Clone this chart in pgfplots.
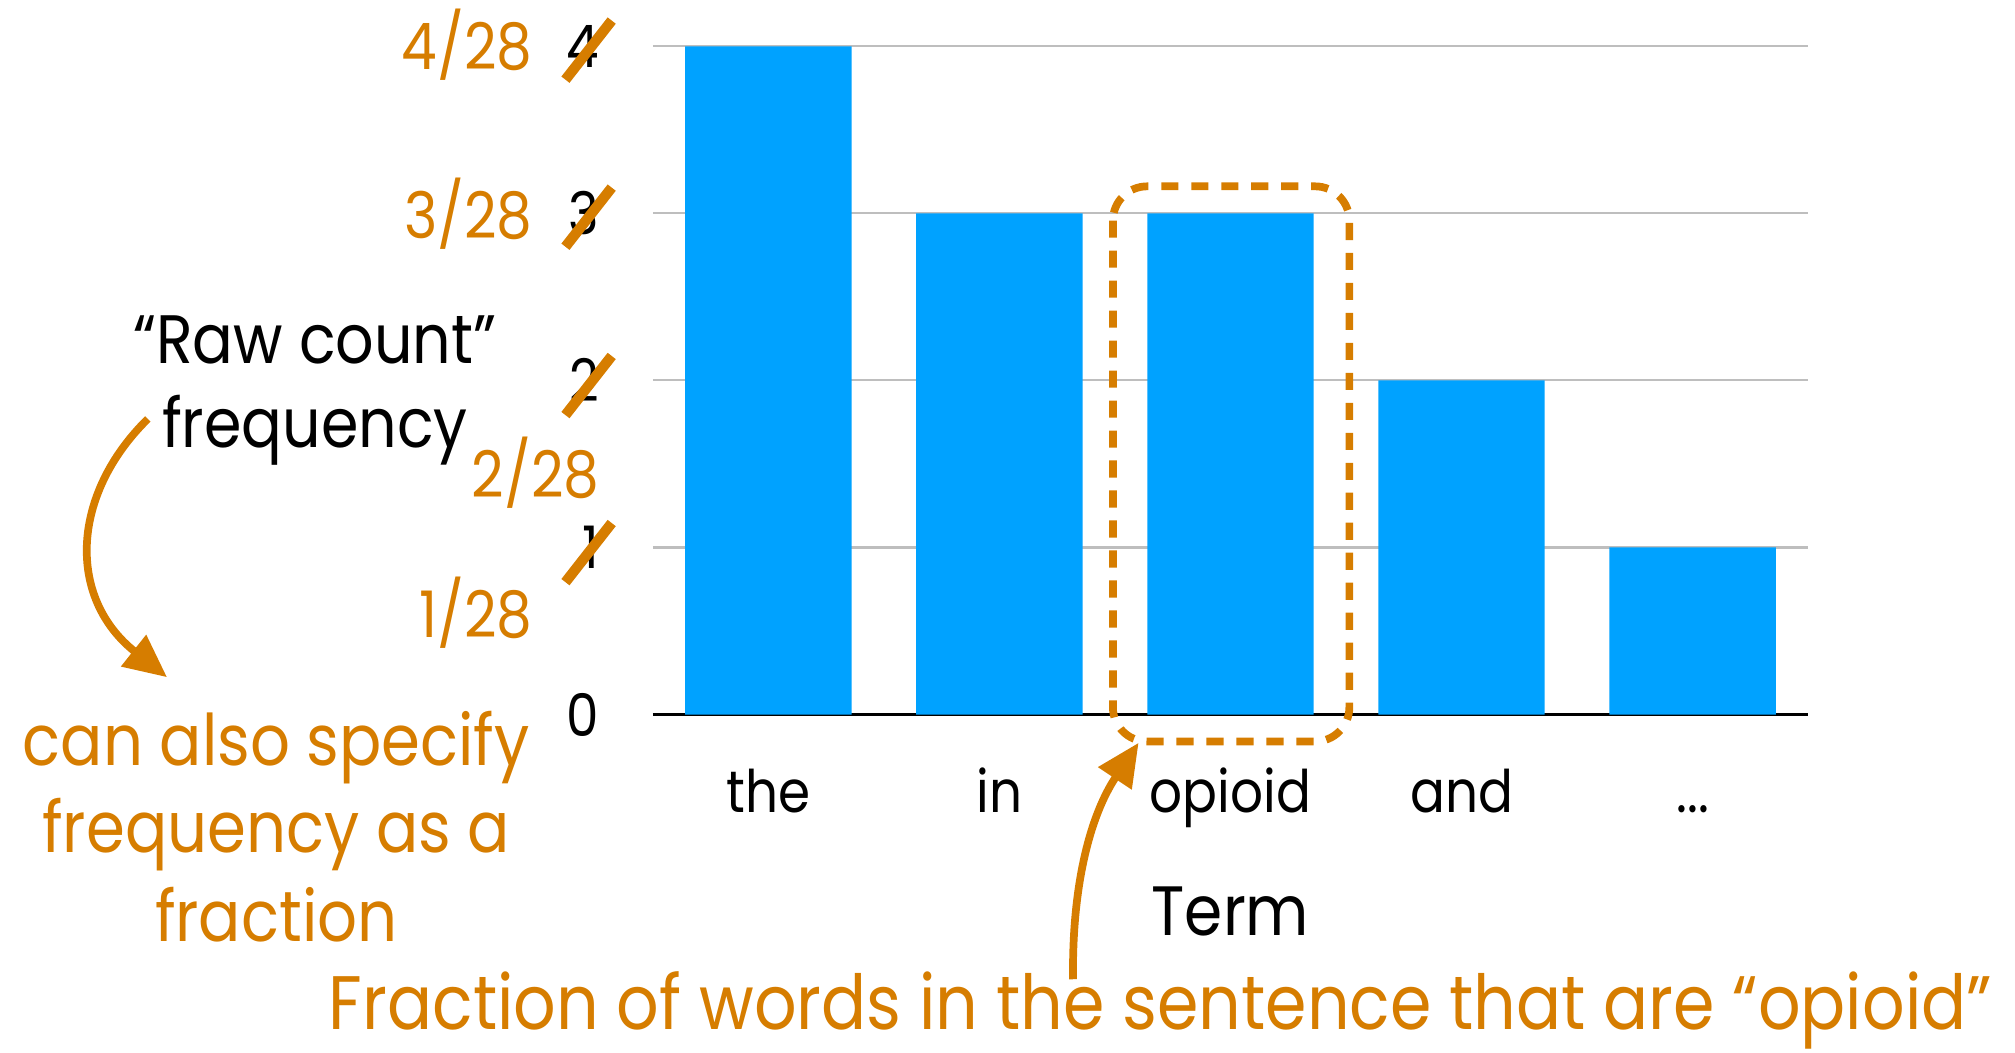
\documentclass[border=0pt]{standalone}
\usepackage{fontspec}
\setmainfont{Poppins}[FakeStretch=0.88]
\usepackage{pgfplots}
\pgfplotsset{compat=1.18}
\usetikzlibrary{arrows.meta}
\definecolor{barblue}{RGB}{0,162,255}
\definecolor{note}{RGB}{214,125,0}
\definecolor{gridgray}{RGB}{190,190,190}
\newcommand{\morelabel}{...}

\begin{document}
\begin{tikzpicture}
% canvas: 1568 x 819 units of 0.3pt, origin at the top-left corner
\useasboundingbox (0,0) rectangle (470.4pt,-245.7pt);

\begin{axis}[
  at={(152.4pt,-166.8pt)}, anchor=south west,
  scale only axis, width=269.7pt, height=156pt,
  xmin=-0.5, xmax=4.5, ymin=0, ymax=4,
  ybar, bar width=0.72,
  xtick={0,1,2,3,4},
  xticklabels={the,in,opioid,and,\morelabel},
  ytick={0,1,2,3,4},
  yticklabels={0,1,2,3,4},
  major tick length=0pt,
  ymajorgrids,
  grid style={gridgray, line width=0.5pt},
  axis x line*=bottom,
  axis y line*=left,
  x axis line style={black, line width=0.6pt},
  y axis line style={draw=none},
  xticklabel style={anchor=base, yshift=-22.8pt, font=\fontsize{13.7}{16}\selectfont},
  yticklabel style={anchor=east, xshift=-9pt, font=\fontsize{13.7}{16}\selectfont},
  xlabel={Term},
  xlabel style={anchor=base, yshift=-22pt, font=\fontsize{16.3}{19}\selectfont},
]
\addplot[fill=barblue, draw=none] coordinates {(0,4) (1,3) (2,3) (3,2) (4,1)};
\end{axis}

\begin{scope}[x=0.3pt, y=-0.3pt]
  % crossed-out raw counts
  \draw[note, line width=2.4pt] (440,62) -- (476,16);
  \draw[note, line width=2.4pt] (440,192) -- (476,146);
  \draw[note, line width=2.4pt] (440,323) -- (476,277);
  \draw[note, line width=2.4pt] (440,453) -- (476,407);
  % fractional tick values
  \node[note, anchor=east, inner sep=0pt, font=\fontsize{15}{18}\selectfont] at (415,35) {4/28};
  \node[note, anchor=east, inner sep=0pt, font=\fontsize{15}{18}\selectfont] at (415,166) {3/28};
  \node[note, anchor=east, inner sep=0pt, font=\fontsize{15}{18}\selectfont] at (467,368) {2/28};
  \node[note, anchor=east, inner sep=0pt, font=\fontsize{15}{18}\selectfont] at (415,477) {1/28};

  % y-axis caption
  \node[anchor=base, inner sep=0pt, font=\fontsize{16}{19}\selectfont] at (245,283) {“Raw count”};
  \node[anchor=base, inner sep=0pt, font=\fontsize{16}{19}\selectfont] at (245,348) {frequency};

  % curved arrow to the note
  \draw[note, line width=1.8pt, -{Triangle[length=10pt,width=9pt]}]
    (115,326) .. controls (55,385) and (52,465) .. (130,527);

  \node[note, anchor=base, inner sep=0pt, font=\fontsize{16.6}{19}\selectfont] at (215,596) {can also specify};
  \node[note, anchor=base, inner sep=0pt, font=\fontsize{16.6}{19}\selectfont] at (215,663) {frequency as a};
  \node[note, anchor=base, inner sep=0pt, font=\fontsize{16.6}{19}\selectfont] at (215,733) {fraction};

  % dashed box around the opioid bar
  \draw[note, line width=1.8pt, dash pattern=on 4pt off 3pt, rounded corners=8pt]
    (866,145) rectangle (1050,577);

  % arrow from the bottom note to the box
  \draw[note, line width=1.8pt, -{Triangle[length=10pt,width=9pt]}]
    (835,762) .. controls (834,690) and (848,635) .. (886,578);

  \node[note, anchor=base, inner sep=0pt, font=\fontsize{17.7}{21}\selectfont]
    at (903,801) {Fraction of words in the sentence that are “opioid”};
\end{scope}
\end{tikzpicture}
\end{document}
